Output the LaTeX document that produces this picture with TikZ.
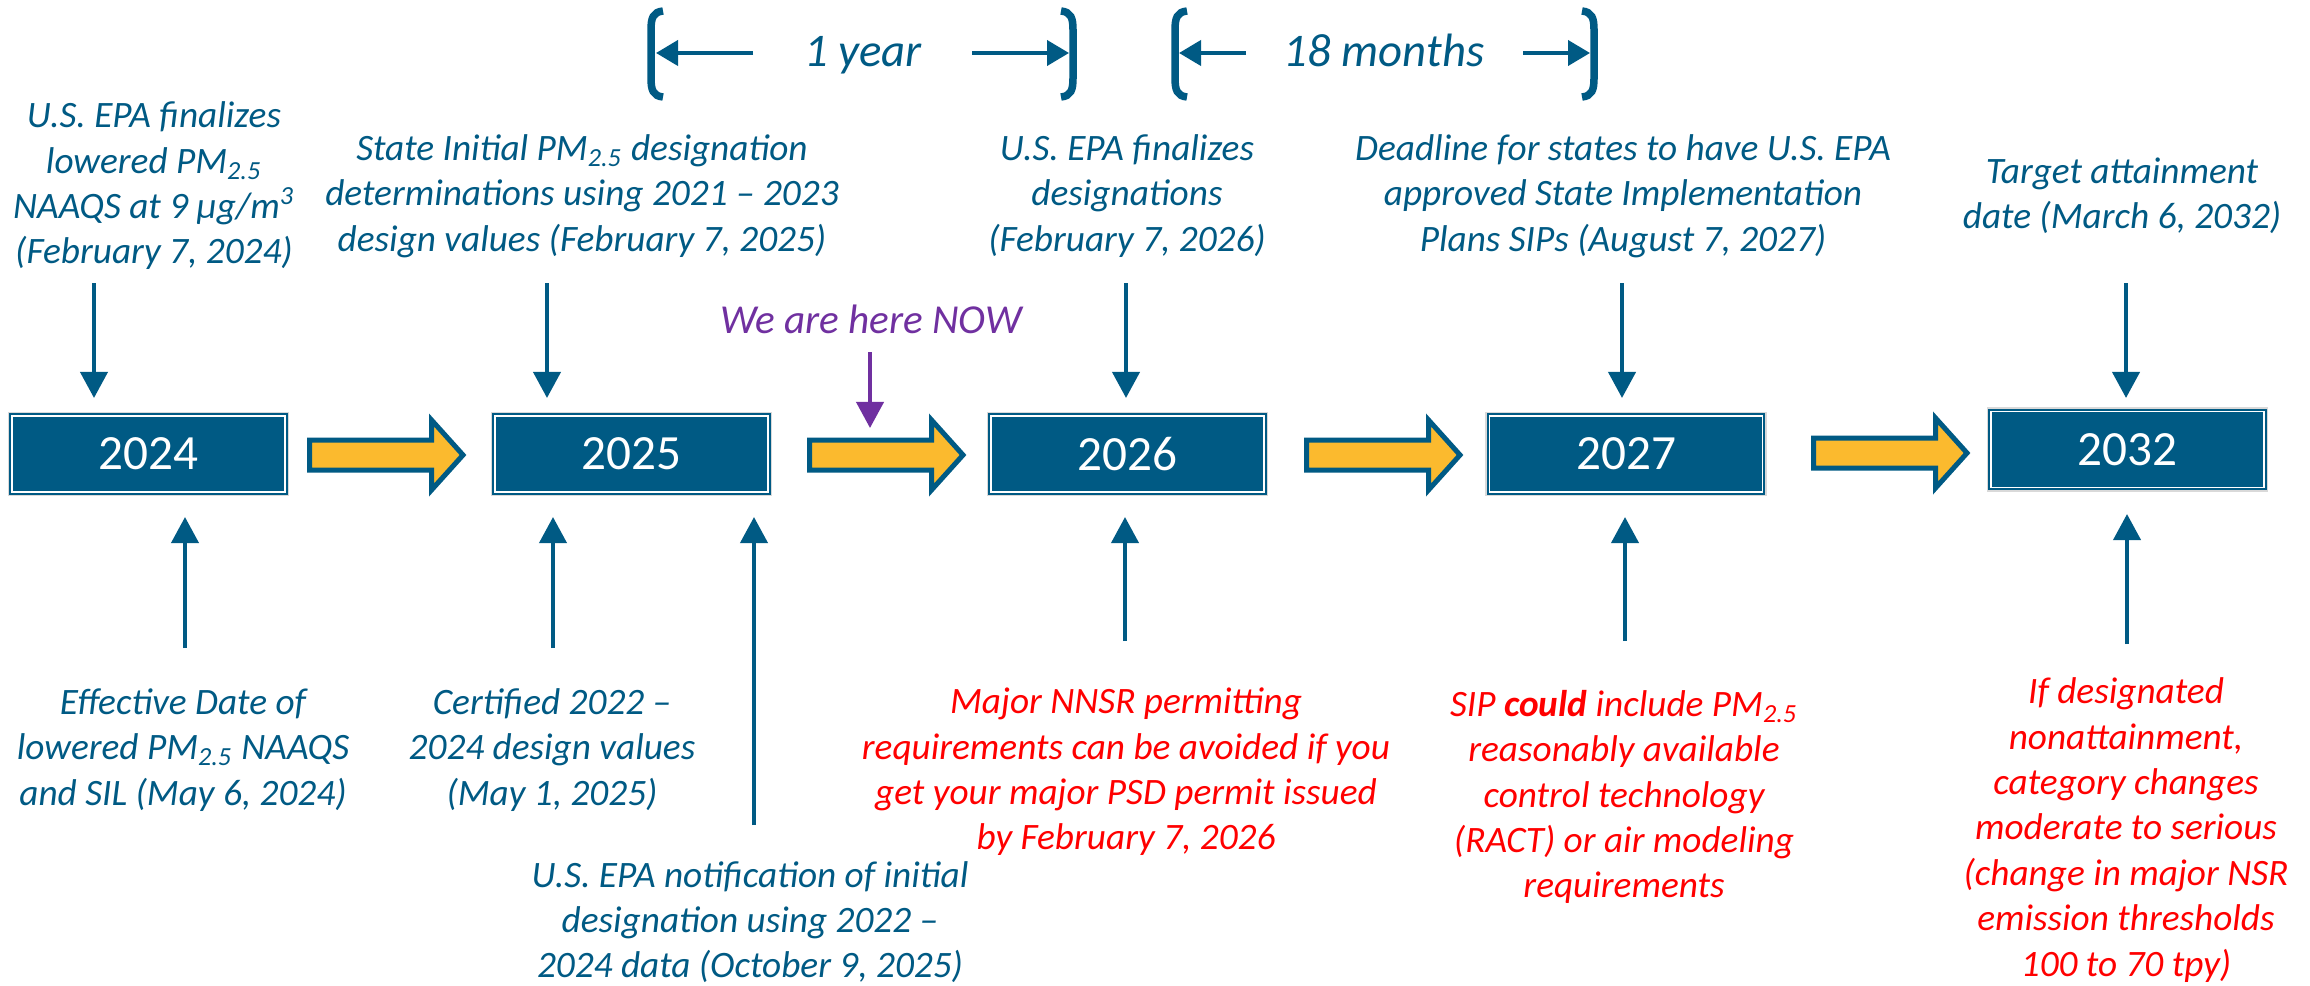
\documentclass[tikz,border=0pt]{standalone}
\usepackage{fontspec}
\setmainfont{Carlito}
\usetikzlibrary{arrows.meta,calc}
\definecolor{dblue}{RGB}{0,90,132}
\definecolor{yell}{RGB}{251,186,46}
\definecolor{purp}{RGB}{112,48,160}
\definecolor{redt}{RGB}{255,0,0}
\definecolor{bgray}{RGB}{217,217,217}
\tikzset{
  yearbox/.style={fill=dblue,draw=bgray,line width=0.015cm,minimum width=2.795cm,minimum height=0.825cm,inner sep=0pt,text=white,font=\fontsize{14}{17}\selectfont},
  innerframe/.style={draw=white,line width=0.015cm},
  desc/.style={align=center,text=dblue,font=\itshape\fontsize{10.6}{12.9}\selectfont,inner sep=0pt},
  note/.style={desc,text=redt},
  conn/.style={draw=dblue,line width=0.04cm,-{Triangle[width=0.27cm,length=0.26cm]}},
  spanarrow/.style={draw=dblue,line width=0.04cm,-{Triangle[width=0.25cm,length=0.22cm]}},
  brk/.style={draw=dblue,line width=0.075cm},
  spantext/.style={text=dblue,font=\itshape\fontsize{13.3}{16}\selectfont,inner sep=0pt,anchor=base},
  yarrow/.pic={\filldraw[fill=yell,draw=dblue,line width=0.05cm,line join=miter]
    (2.5,-15) -- (124.5,-15) -- (124.5,-35) -- (156,0) -- (124.5,35) -- (124.5,15) -- (2.5,15) -- cycle;}
}
\begin{document}
\begin{tikzpicture}[x=0.01cm,y=-0.01cm]
\fill[white] (0,0) rectangle (2310,985);
\useasboundingbox (0,0) rectangle (2310,985);

% year boxes
\node[yearbox] (b24) at (148.5,454) {2024};
\node[yearbox] (b25) at (631.5,454) {2025};
\node[yearbox] (b26) at (1127.5,454) {2026};
\node[yearbox] (b27) at (1626,454) {2027};
\node[yearbox] (b32) at (2127.5,449.5) {2032};
\foreach \n in {b24,b25,b26,b27,b32}
  \draw[innerframe] ($(\n.south west)+(4,-4)$) rectangle ($(\n.north east)+(-4,4)$);

% block arrows
\pic (ya1) at (307,455) {yarrow};
\pic (ya2) at (807,455) {yarrow};
\pic (ya3) at (1304,455) {yarrow};
\pic (ya4) at (1811,453) {yarrow};

% span brackets
\draw[brk] (663,11) .. controls (653,12) and (651,18) .. (651,30) -- (651,78) .. controls (651,90) and (653,96) .. (663,97);
\draw[brk] (1061,11) .. controls (1071,12) and (1073,18) .. (1073,30) -- (1073,78) .. controls (1073,90) and (1071,96) .. (1061,97);
\draw[brk] (1187,11) .. controls (1177,12) and (1175,18) .. (1175,30) -- (1175,78) .. controls (1175,90) and (1177,96) .. (1187,97);
\draw[brk] (1582,11) .. controls (1592,12) and (1594,18) .. (1594,30) -- (1594,78) .. controls (1594,90) and (1592,96) .. (1582,97);
\coordinate (y1a) at (753,53); \coordinate (y1b) at (656,53);
\coordinate (y1c) at (972,53); \coordinate (y1d) at (1069,53);
\coordinate (m1a) at (1246,53); \coordinate (m1b) at (1179,53);
\coordinate (m1c) at (1523,53); \coordinate (m1d) at (1590,53);
\draw[spanarrow] (y1a) -- (y1b);
\draw[spanarrow] (y1c) -- (y1d);
\draw[spanarrow] (m1a) -- (m1b);
\draw[spanarrow] (m1c) -- (m1d);
\node[spantext] (oneyear) at (863,67) {1 year};
\node[spantext] (months) at (1384,67) {18 months};

% top descriptions
\node[desc] (t1) at (154,186) {U.S. EPA finalizes\\lowered PM\textsubscript{2.5}\\NAAQS at 9 µg/m\textsuperscript{3}\\(February 7, 2024)};
\node[desc] (t2) at (582,196) {State Initial PM\textsubscript{2.5} designation\\determinations using 2021 – 2023\\design values (February 7, 2025)};
\node[desc] (t3) at (1127,196) {U.S. EPA finalizes\\designations\\(February 7, 2026)};
\node[desc] (t4) at (1623,196) {Deadline for states to have U.S. EPA\\approved State Implementation\\Plans SIPs (August 7, 2027)};
\node[desc] (t5) at (2122,196) {Target attainment\\date (March 6, 2032)};
\node[desc,text=purp,font=\itshape\fontsize{11.7}{14}\selectfont] (now) at (871,319) {We are here NOW};

% bottom descriptions
\node[desc] (s1) at (183,750) {Effective Date of\\lowered PM\textsubscript{2.5} NAAQS\\and SIL (May 6, 2024)};
\node[desc] (s2) at (552,750) {Certified 2022 –\\2024 design values\\(May 1, 2025)};
\node[desc] (s3) at (750,922) {U.S. EPA notification of initial\\designation using 2022 –\\2024 data (October 9, 2025)};
\node[note] (r1) at (1126,772) {Major NNSR permitting\\requirements can be avoided if you\\get your major PSD permit issued\\by February 7, 2026};
\node[note] (r2) at (1624,797) {SIP \textbf{could} include PM\textsubscript{2.5}\\reasonably available\\control technology\\(RACT) or air modeling\\requirements};
\node[note] (r3) at (2126,830) {If designated\\nonattainment,\\category changes\\moderate to serious\\(change in major NSR\\emission thresholds\\100 to 70 tpy)};

% downward connectors
\coordinate (d1) at (94,283);
\coordinate (d2) at (547,283);
\coordinate (d3) at (1126,283);
\coordinate (d4) at (1622,283);
\coordinate (d5) at (2126,283);
\draw[conn,shorten >=0.14cm] (d1) -- (d1 |- b24.north);
\draw[conn,shorten >=0.14cm] (d2) -- (d2 |- b25.north);
\draw[conn,shorten >=0.14cm] (d3) -- (d3 |- b26.north);
\draw[conn,shorten >=0.14cm] (d4) -- (d4 |- b27.north);
\draw[conn,shorten >=0.095cm] (d5) -- (d5 |- b32.north);

% we are here
\coordinate (p0) at (870,352);
\coordinate (p1) at (870,428);
\draw[conn,draw=purp] (p0) -- (p1);

% upward connectors
\coordinate (u1) at (185,648);
\coordinate (u2) at (553,648);
\coordinate (u3) at (754,825);
\coordinate (u4) at (1125,641);
\coordinate (u5) at (1625,641);
\coordinate (u6) at (2127,644);
\draw[conn,shorten >=0.21cm] (u1) -- (u1 |- b24.south);
\draw[conn,shorten >=0.21cm] (u2) -- (u2 |- b25.south);
\draw[conn,shorten >=0.21cm] (u3) -- (u3 |- b25.south);
\draw[conn,shorten >=0.21cm] (u4) -- (u4 |- b26.south);
\draw[conn,shorten >=0.21cm] (u5) -- (u5 |- b27.south);
\draw[conn,shorten >=0.225cm] (u6) -- (u6 |- b32.south);
\end{tikzpicture}
\end{document}
